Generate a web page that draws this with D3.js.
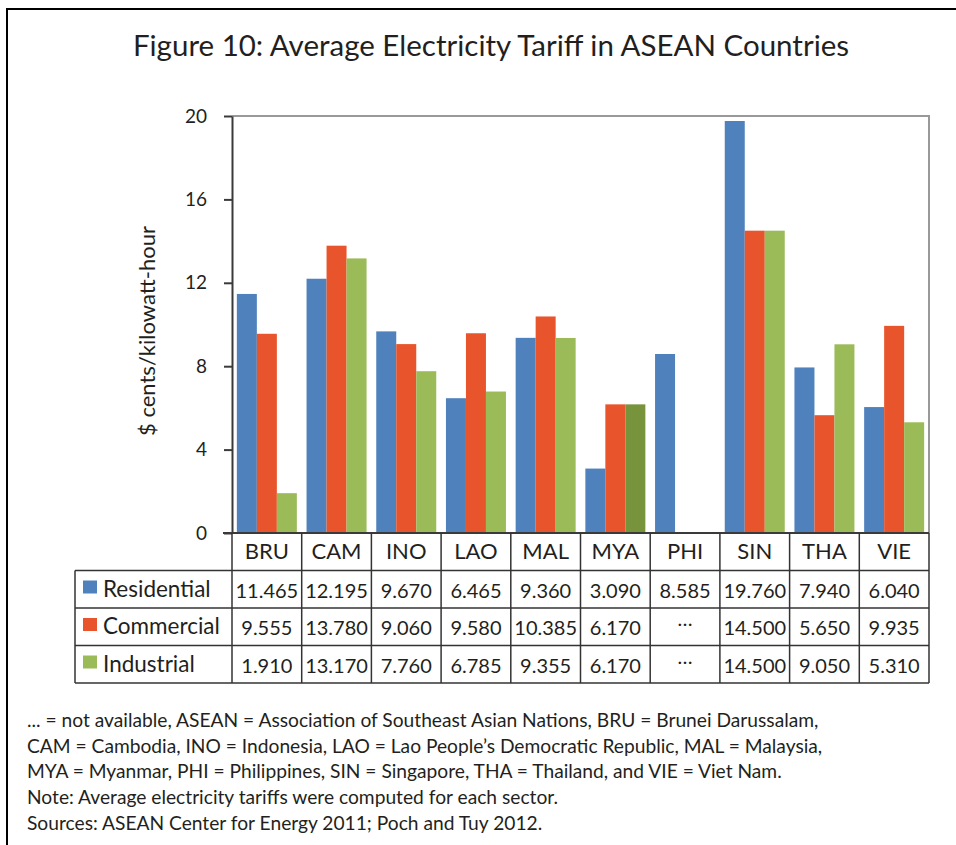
<!DOCTYPE html>
<html>
<head>
<meta charset="utf-8">
<script src="https://cdn.jsdelivr.net/npm/d3@7"></script>
<style>
  body { margin: 0; background: #fff; }
  text { font-family: Lato, "Open Sans", sans-serif; fill: #231f20; }
</style>
</head>
<body>
<script>
const w = 956;
const h = 845;

// data
const countries = ["BRU", "CAM", "INO", "LAO", "MAL", "MYA", "PHI", "SIN", "THA", "VIE"];
const sectors = ["Residential", "Commercial", "Industrial"];
const residential = [11.465, 12.195, 9.670, 6.465, 9.360, 3.090, 8.585, 19.760, 7.940, 6.040];
const commercial = [9.555, 13.780, 9.060, 9.580, 10.385, 6.170, null, 14.500, 5.650, 9.935];
const industrial = [1.910, 13.170, 7.760, 6.785, 9.355, 6.170, null, 14.500, 9.050, 5.310];
const yTicks = [0, 4, 8, 12, 16, 20];

const notes = [
  "... = not available, ASEAN = Association of Southeast Asian Nations, BRU = Brunei Darussalam,",
  "CAM = Cambodia, INO = Indonesia, LAO = Lao People\u2019s Democratic Republic, MAL = Malaysia,",
  "MYA = Myanmar, PHI = Philippines, SIN = Singapore, THA = Thailand, and VIE = Viet Nam.",
  "Note: Average electricity tariffs were computed for each sector.",
  "Sources: ASEAN Center for Energy 2011; Poch and Tuy 2012."
];

const colors = { Residential: "#4f81bd", Commercial: "#e8542b", Industrial: "#9bbb59" };
const seriesValues = { Residential: residential, Commercial: commercial, Industrial: industrial };

const plot = { left: 232, right: 929, top: 116, bottom: 533 };
const rowH = 37.5;
const tableLeft = 75;

var svg = d3.select("body").append("svg")
  .attr("width", w)
  .attr("height", h);

// outer frame
svg.append("path")
  .attr("d", "M7," + h + " V9 H" + w)
  .attr("fill", "none")
  .attr("stroke", "#000")
  .attr("stroke-width", 2);

svg.append("text")
  .attr("x", 491)
  .attr("y", 56)
  .attr("text-anchor", "middle")
  .style("font-size", "29.5px")
  .text("Figure 10: Average Electricity Tariff in ASEAN Countries");

var x = d3.scaleBand()
  .domain(countries)
  .range([plot.left, plot.right]);

var groupW = 60;
var x1 = d3.scaleBand()
  .domain(sectors)
  .range([(x.bandwidth() - groupW) / 2, (x.bandwidth() + groupW) / 2]);

var y = d3.scaleLinear()
  .domain([0, 20])
  .range([plot.bottom, plot.top]);

// plot border (top and right)
svg.append("path")
  .attr("d", "M" + plot.left + "," + plot.top + " H" + plot.right + " V" + plot.bottom)
  .attr("fill", "none")
  .attr("stroke", "#999")
  .attr("stroke-width", 2);

// bars
var bars = [];
countries.forEach(function(c, i) {
  sectors.forEach(function(s) {
    var v = seriesValues[s][i];
    if (v != null) bars.push({ country: c, sector: s, value: v });
  });
});

svg.append("g").selectAll("rect")
  .data(bars)
  .enter()
  .append("rect")
  .attr("x", d => x(d.country) + x1(d.sector))
  .attr("y", d => y(d.value))
  .attr("width", x1.bandwidth())
  .attr("height", d => y(0) - y(d.value))
  .attr("fill", d => (d.country == "MYA" && d.sector == "Industrial") ? "#77933c" : colors[d.sector]);

// y axis
var yAxis = svg.append("g")
  .attr("transform", "translate(" + plot.left + ",0)")
  .call(d3.axisLeft(y).tickValues(yTicks).tickSize(8).tickPadding(17).tickSizeOuter(0));
yAxis.select(".domain").attr("stroke", "#3a3a3a").attr("stroke-width", 2);
yAxis.selectAll(".tick line").attr("stroke", "#3a3a3a").attr("stroke-width", 2);
yAxis.selectAll(".tick text")
  .style("font-family", "Lato, sans-serif")
  .style("font-size", "19px")
  .attr("fill", "#231f20");

svg.append("text")
  .attr("transform", "translate(155," + 331 + ") rotate(-90)")
  .attr("text-anchor", "middle")
  .style("font-size", "22px")
  .text("$ cents/kilowatt-hour");

// data table
var table = svg.append("g");
var lineColor = "#333";
var tb = plot.bottom + rowH * 4;

// horizontal rules
table.append("line")
  .attr("x1", plot.left - 9).attr("x2", plot.right)
  .attr("y1", plot.bottom).attr("y2", plot.bottom)
  .attr("stroke", "#3a3a3a").attr("stroke-width", 2);
d3.range(1, 5).forEach(function(r) {
  table.append("line")
    .attr("x1", tableLeft).attr("x2", plot.right)
    .attr("y1", plot.bottom + rowH * r).attr("y2", plot.bottom + rowH * r)
    .attr("stroke", lineColor).attr("stroke-width", 1.5);
});
// vertical rules
countries.forEach(function(c) {
  table.append("line")
    .attr("x1", x(c)).attr("x2", x(c))
    .attr("y1", plot.bottom).attr("y2", tb)
    .attr("stroke", lineColor).attr("stroke-width", 1.5);
});
table.append("line")
  .attr("x1", plot.right).attr("x2", plot.right)
  .attr("y1", plot.bottom).attr("y2", tb)
  .attr("stroke", lineColor).attr("stroke-width", 1.5);
table.append("line")
  .attr("x1", tableLeft).attr("x2", tableLeft)
  .attr("y1", plot.bottom + rowH).attr("y2", tb)
  .attr("stroke", lineColor).attr("stroke-width", 1.5);

// header row
table.selectAll("text.head")
  .data(countries)
  .enter()
  .append("text")
  .attr("class", "head")
  .attr("x", d => x(d) + x.bandwidth() / 2)
  .attr("y", plot.bottom + 26)
  .attr("text-anchor", "middle")
  .style("font-size", "22px")
  .text(d => d);

// series rows
sectors.forEach(function(s, r) {
  var rowY = plot.bottom + rowH * (r + 1);
  table.append("rect")
    .attr("x", 83).attr("y", rowY + 10)
    .attr("width", 14).attr("height", 13)
    .attr("fill", colors[s]);
  table.append("text")
    .attr("x", 103)
    .attr("y", rowY + 26)
    .style("font-size", "22.5px")
    .text(s);
  seriesValues[s].forEach(function(v, i) {
    table.append("text")
      .attr("x", x(countries[i]) + x.bandwidth() / 2)
      .attr("y", rowY + (v == null ? 18 : 27))
      .attr("text-anchor", "middle")
      .style("font-size", "20px")
      .text(v == null ? "\u2026" : d3.format(".3f")(v));
  });
});

// footnotes
svg.append("g").selectAll("text")
  .data(notes)
  .enter()
  .append("text")
  .attr("x", 27)
  .attr("y", (d, i) => 727 + i * 25.7)
  .style("font-size", "19.2px")
  .text(d => d);
</script>
</body>
</html>
